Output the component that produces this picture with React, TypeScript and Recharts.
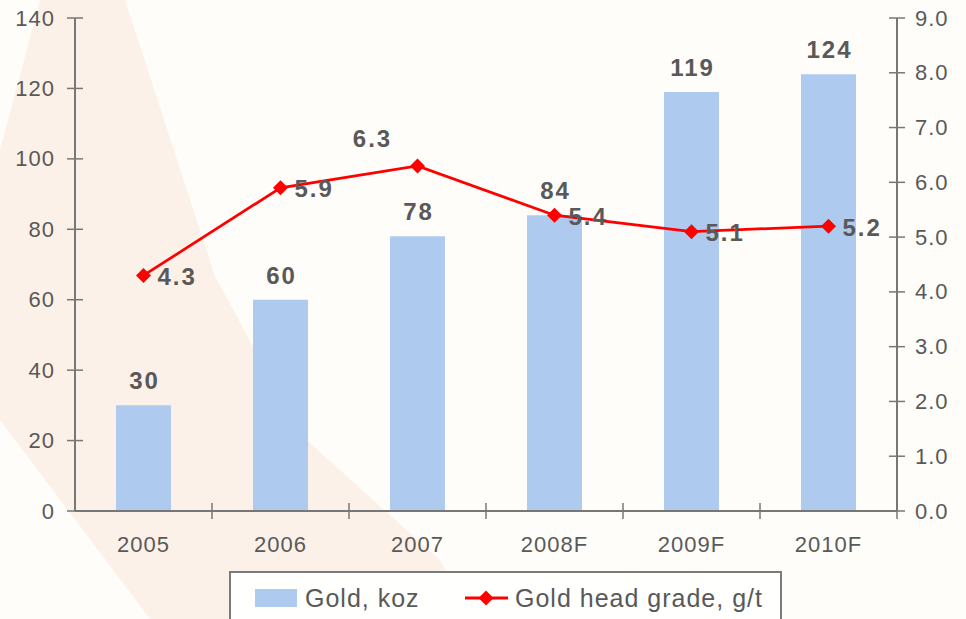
import React from "react";
import { ComposedChart, Bar, Line, XAxis, YAxis, LabelList, Legend } from "recharts";

const years = ["2005", "2006", "2007", "2008F", "2009F", "2010F"];
const goldKoz = [30, 60, 78, 84, 119, 124];
const headGrade = [4.3, 5.9, 6.3, 5.4, 5.1, 5.2];
const kozTicks = [0, 20, 40, 60, 80, 100, 120, 140];
const gradeTicks = [0, 1, 2, 3, 4, 5, 6, 7, 8, 9];

const data = years.map((year, i) => ({ year, koz: goldKoz[i], grade: headGrade[i] }));

const FONT = '"Liberation Sans", Arial, sans-serif';
const TEXT = "#595959";
const AXIS = "#777777";
const BLUE = "#aecaee";
const RED = "#ff0000";

const diamondPath = (cx: number, cy: number, r: number) =>
  `M${cx},${cy - r}L${cx + r},${cy}L${cx},${cy + r}L${cx - r},${cy}Z`;

const Diamond = (props: any) => {
  const { cx, cy } = props;
  if (cx == null || cy == null) return null;
  return <path d={diamondPath(cx, cy, 7.5)} fill={RED} />;
};

const GradeLabel = (props: any) => {
  const { x, y, value, index } = props;
  // the 2007 label sits up and to the left of its point
  const above = index === 2;
  return (
    <text
      x={above ? x - 45 : x + 14}
      y={above ? y - 27 : y + 1}
      textAnchor={above ? "middle" : "start"}
      dominantBaseline="central"
      fill={TEXT}
      fontSize={24}
      fontWeight="bold"
      letterSpacing={2}
      fontFamily={FONT}
    >
      {Number(value).toFixed(1)}
    </text>
  );
};

const KozLabel = (props: any) => {
  const { x, y, width, value } = props;
  return (
    <text
      x={x + width / 2 + 1}
      y={y - 16}
      textAnchor="middle"
      fill={TEXT}
      fontSize={24}
      fontWeight="bold"
      letterSpacing={2}
      fontFamily={FONT}
    >
      {value}
    </text>
  );
};

const XTick = (props: any) => {
  const { x, y, payload } = props;
  return (
    <text x={x} y={y} dy="0.71em" textAnchor="middle" fill={TEXT} fontSize={22} letterSpacing={1} fontFamily={FONT}>
      {payload.value}
    </text>
  );
};

const LeftTick = (props: any) => {
  const { x, y, payload } = props;
  return (
    <text x={x} y={y} dominantBaseline="central" textAnchor="end" fill={TEXT} fontSize={22} letterSpacing={1} fontFamily={FONT}>
      {payload.value}
    </text>
  );
};

const RightTick = (props: any) => {
  const { x, y, payload } = props;
  return (
    <text x={x} y={y} dominantBaseline="central" textAnchor="start" fill={TEXT} fontSize={22} letterSpacing={1} fontFamily={FONT}>
      {Number(payload.value).toFixed(1)}
    </text>
  );
};

const LegendBox = () => (
  <svg width={553} height={70} style={{ display: "block", overflow: "visible" }}>
    <rect x={1} y={1} width={551} height={80} fill="#fffffe" stroke="#7a7a7a" strokeWidth={2} />
    <rect x={26} y={18} width={42} height={18} fill={BLUE} />
    <text x={76} y={27} dominantBaseline="central" fill={TEXT} fontSize={25} letterSpacing={1} fontFamily={FONT}>
      Gold, koz
    </text>
    <line x1={236} x2={279} y1={27} y2={27} stroke={RED} strokeWidth={3} />
    <path d={diamondPath(257, 27, 7.5)} fill={RED} />
    <text x={286} y={27} dominantBaseline="central" fill={TEXT} fontSize={25} letterSpacing={1} fontFamily={FONT}>
      Gold head grade, g/t
    </text>
  </svg>
);

export default function App() {
  return (
    <div
      style={{
        position: "fixed",
        left: 0,
        top: 0,
        width: 966,
        height: 619,
        overflow: "hidden",
        background: "#fffdf9",
        fontFamily: FONT,
      }}
    >
      <svg width={966} height={619} style={{ position: "absolute", left: 0, top: 0 }}>
        <polygon
          points="40,0 125,0 215,276 300,434 440,560 470,619 150,619 0,420 0,150"
          fill="#fcefe5"
          opacity={0.85}
        />
      </svg>
      <div style={{ position: "absolute", left: 0, top: 0 }}>
        <ComposedChart width={966} height={619} data={data} margin={{ top: 18, right: 0, bottom: 0, left: 0 }}>
          <XAxis
            dataKey="year"
            height={60}
            tickSize={16}
            tickMargin={9}
            interval={0}
            tick={<XTick />}
            axisLine={{ stroke: AXIS, strokeWidth: 2 }}
            tickLine={{ stroke: AXIS, strokeWidth: 1.5, transform: "translate(68.5,-8)" }}
          />
          <YAxis
            yAxisId="koz"
            domain={[0, 140]}
            ticks={kozTicks}
            interval={0}
            width={75}
            tickSize={16}
            tickMargin={4}
            tick={<LeftTick />}
            axisLine={{ stroke: AXIS, strokeWidth: 2 }}
            tickLine={{ stroke: AXIS, strokeWidth: 1.5, transform: "translate(8,0)" }}
          />
          <YAxis
            yAxisId="grade"
            orientation="right"
            domain={[0, 9]}
            ticks={gradeTicks}
            interval={0}
            width={69}
            tickSize={16}
            tickMargin={2}
            tick={<RightTick />}
            axisLine={{ stroke: AXIS, strokeWidth: 2 }}
            tickLine={{ stroke: AXIS, strokeWidth: 1.5, transform: "translate(-8,0)" }}
          />
          <Legend
            verticalAlign="bottom"
            height={48}
            content={<LegendBox />}
            wrapperStyle={{ left: 229, bottom: 0, width: 553, height: 48 }}
          />
          <Bar yAxisId="koz" dataKey="koz" name="Gold, koz" fill={BLUE} barSize={55} isAnimationActive={false}>
            <LabelList dataKey="koz" content={<KozLabel />} />
          </Bar>
          <Line
            yAxisId="grade"
            dataKey="grade"
            name="Gold head grade, g/t"
            type="linear"
            stroke={RED}
            strokeWidth={2.75}
            dot={<Diamond />}
            activeDot={false}
            isAnimationActive={false}
          >
            <LabelList dataKey="grade" content={<GradeLabel />} />
          </Line>
        </ComposedChart>
      </div>
    </div>
  );
}
